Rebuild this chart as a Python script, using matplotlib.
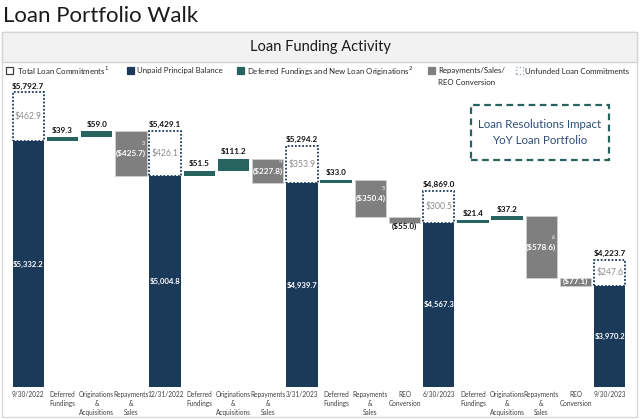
import matplotlib
matplotlib.use("Agg")
import matplotlib.pyplot as plt
import matplotlib.transforms as mtransforms
from matplotlib.patches import Rectangle

plt.rcParams['font.family'] = ['Lato', 'DejaVu Sans']

# ---------------- data ----------------
categories = ["9/30/2022", "Deferred\nFundings", "Originations\n&\nAcquisitions", "Repayments\n&\nSales",
              "12/31/2022", "Deferred\nFundings", "Originations\n&\nAcquisitions", "Repayments\n&\nSales",
              "3/31/2023", "Deferred\nFundings", "Repayments\n&\nSales", "REO\nConversion",
              "6/30/2023", "Deferred\nFundings", "Originations\n&\nAcquisitions", "Repayments\n&\nSales",
              "REO\nConversion", "9/30/2023"]
kinds = ["total", "inc", "inc", "dec", "total", "inc", "inc", "dec", "total",
         "inc", "dec", "dec", "total", "inc", "inc", "dec", "dec", "total"]
values = [5332.2, 39.3, 59.0, -425.7, 5004.8, 51.5, 111.2, -227.8, 4939.7,
          33.0, -350.4, -55.0, 4567.3, 21.4, 37.2, -578.6, -77.1, 3970.2]
unfunded = [462.9, 426.1, 353.9, 300.5, 247.6]
total_commitments = [5792.7, 5429.1, 5294.2, 4869.0, 4223.7]
footnotes = ["", "", "", "3", "", "", "", "4", "", "", "5", "", "", "", "", "6", "", ""]

NAVY = "#1b3a5a"
TEAL = "#27645f"
GRAY = "#7f7f7f"
UNF_TXT = "#8c8c8c"

W, H = 640, 419
fig = plt.figure(figsize=(6.4, 4.19), dpi=100)

def fx(x):
    return x / W

def fy(y):
    return 1 - y / H

# panel border and header band
fig.patches.append(Rectangle((fx(2), fy(417)), fx(635), (417 - 32) / H,
                             transform=fig.transFigure, fill=False, edgecolor="#d9d9d9", lw=1))
fig.patches.append(Rectangle((fx(2), fy(62)), fx(635), 30 / H, transform=fig.transFigure,
                             facecolor="#f2f2f2", edgecolor="#d4d4d4", lw=1))
fig.text(fx(320), fy(47), "Loan Funding Activity", ha="center", va="center", fontsize=10.5, color="#1a1a1a")
fig.text(fx(3), fy(16), "Loan Portfolio Walk", ha="left", va="center", fontsize=16, color="#1a1a1a")

# legend (manual)
leg_fs = 5.7
def sq(x, y, face, edge, ls="-"):
    fig.patches.append(Rectangle((fx(x), fy(y + 7)), 7 / W, 7 / H, transform=fig.transFigure,
                                 facecolor=face, edgecolor=edge, lw=0.9, linestyle=ls))
sq(6, 67, "white", "#404040")
fig.text(fx(17), fy(71), "Total Loan Commitments$^{1}$", fontsize=leg_fs, va="center", color="#262626")
sq(127, 67, NAVY, NAVY)
fig.text(fx(137), fy(71), "Unpaid Principal Balance", fontsize=leg_fs, va="center", color="#262626")
sq(237, 67, TEAL, TEAL)
fig.text(fx(247), fy(71), "Deferred Fundings and New Loan Originations$^{2}$", fontsize=leg_fs, va="center", color="#262626")
sq(428, 67, GRAY, GRAY)
fig.text(fx(438), fy(71), "Repayments/Sales/", fontsize=leg_fs, va="center", color="#262626")
fig.text(fx(438), fy(82), "REO Conversion", fontsize=leg_fs, va="center", color="#262626")
sq(516, 67, "white", "#8aa0b8", ":")
fig.text(fx(525), fy(71), "Unfunded Loan Commitments", fontsize=leg_fs, va="center", color="#262626")

# annotation box
fig.patches.append(Rectangle((fx(471), fy(160)), 138 / W, 55 / H, transform=fig.transFigure,
                             fill=False, edgecolor=TEAL, lw=1.6, linestyle=(0, (3, 2))))
fig.text(fx(540), fy(125), "Loan Resolutions Impact", ha="center", va="center", fontsize=8.3, color="#2f4f78")
fig.text(fx(540), fy(141), "YoY Loan Portfolio", ha="center", va="center", fontsize=8.3, color="#2f4f78")

# ---------------- axes ----------------
ax = fig.add_axes([fx(11.2), fy(387), 615.6 / W, 307 / H])
ymin, ymax = 3016, 5912
ax.set_ylim(ymin, ymax)
ax.set_xlim(-0.5, len(categories) - 0.5)
ax.axis("off")
ax.patch.set_alpha(0)

bw = 0.92
cum = 0.0
ti = 0
vfs = 5.6
fmt = lambda v: "${:,.1f}".format(v)
for i, (k, v) in enumerate(zip(kinds, values)):
    if k == "total":
        cum = v
        ax.bar(i, v, width=bw, color=NAVY, zorder=2)
        ax.text(i, (ymin + v) / 2, fmt(v), ha="center", va="center", color="white",
                fontsize=vfs, fontweight="bold", zorder=5)
        u = unfunded[ti]
        ax.bar(i, u, bottom=v, width=bw, facecolor="white", edgecolor=NAVY,
               linewidth=1.3, linestyle=(0, (1, 1)), zorder=3)
        ax.text(i, v + u / 2, fmt(u), ha="center", va="center", color=UNF_TXT, fontsize=6.2, zorder=5)
        ax.annotate(fmt(total_commitments[ti]), (i, v + u), xytext=(0, 2), textcoords="offset points",
                    ha="center", va="bottom", fontsize=vfs + 0.3, fontweight="bold", color="#111111")
        ti += 1
    elif k == "inc":
        ax.bar(i, v, bottom=cum, width=bw, color=TEAL, zorder=2)
        ax.annotate(fmt(v), (i, cum + v), xytext=(0, 2.5), textcoords="offset points",
                    ha="center", va="bottom", fontsize=vfs + 0.3, fontweight="bold", color="#111111")
        cum += v
    else:
        ax.bar(i, v, bottom=cum, width=bw, color=GRAY, edgecolor="#d0d0d0", linewidth=0.6, zorder=2)
        lab = "(" + fmt(-v) + ")"
        mid = cum + v / 2
        if abs(v) < 60:
            ax.annotate(lab, (i, cum + v), xytext=(0, -0.5), textcoords="offset points",
                        ha="center", va="top", fontsize=vfs + 0.3, fontweight="bold", color="#111111")
        else:
            ax.text(i, mid, lab, ha="center", va="center", fontsize=vfs + 0.3, fontweight="bold",
                    color="white", zorder=5)
        if footnotes[i]:
            ax.annotate(footnotes[i], (i, mid), xytext=(9, 7), textcoords="offset points",
                        ha="center", va="center", fontsize=4, color="white", zorder=5)
        cum += v

tick_tr = ax.transData + mtransforms.ScaledTranslation(0, -3 / 72, fig.dpi_scale_trans)
for i, c in enumerate(categories):
    ax.text(i, ymin, c, transform=tick_tr, ha="center", va="top", fontsize=4.7,
            color="#404040", linespacing=1.3)

fig.savefig("out.png", dpi=100)
